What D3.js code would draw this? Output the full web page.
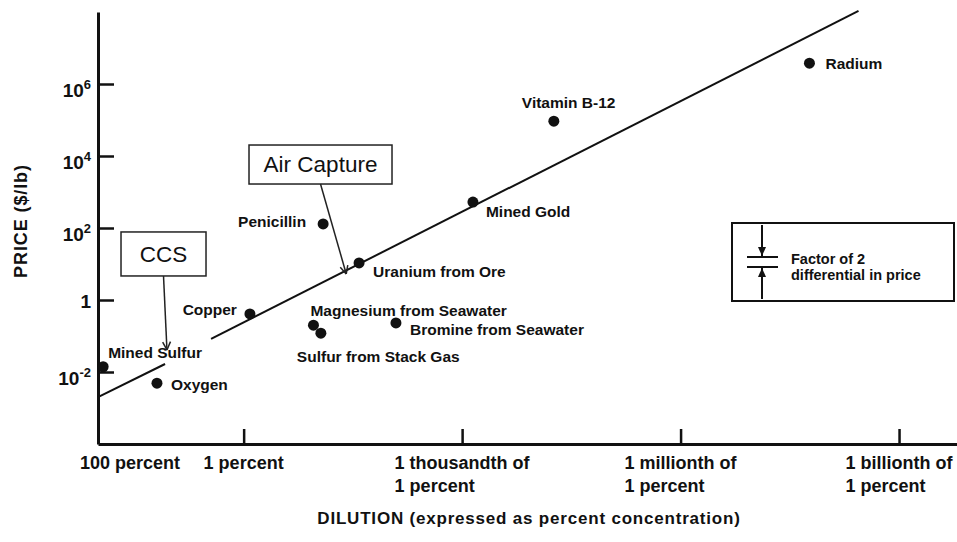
<!DOCTYPE html>
<html>
<head>
<meta charset="utf-8">
<script src="https://cdn.jsdelivr.net/npm/d3@7"></script>
<style>
  body { margin: 0; background: #fff; }
  text { font-family: "Liberation Sans", Arial, sans-serif; fill: #111; }
</style>
</head>
<body>
<div id="chart"></div>
<script>
// materials: concentration in percent, price in $/lb
var names = ["Mined Sulfur", "Oxygen", "Copper", "Penicillin", "Uranium from Ore",
  "Magnesium from Seawater", "Sulfur from Stack Gas", "Bromine from Seawater",
  "Mined Gold", "Vitamin B-12", "Radium"];
var concentration = [85, 15.5, 0.82, 0.081, 0.026, 0.11, 0.087, 0.0081, 7.1e-4, 5.5e-5, 1.7e-8];
var price = [0.014, 0.0049, 0.41, 130, 10.7, 0.2, 0.12, 0.23, 525, 9.3e4, 3.8e6];

// trend line, drawn as two pieces (broken near "Mined Sulfur")
var fitConc = [100, 12, 2.8, 3.6e-9];
var fitPrice = [0.002, 0.0167, 0.083, 1.07e8];

var xTicks = [100, 1, 1e-3, 1e-6, 1e-9];
var xTickLabels = [["100 percent"], ["1 percent"], ["1 thousandth of", "1 percent"],
  ["1 millionth of", "1 percent"], ["1 billionth of", "1 percent"]];
var yTicks = [1e-2, 1, 1e2, 1e4, 1e6];
var yTickExp = ["-2", "", "2", "4", "6"];

// call-out boxes
var annoText = ["CCS", "Air Capture"];
var annoBoxConc = [12.6, 0.088];
var annoBoxPrice = [19, 5800];
var annoTipConc = [11.3, 0.039];
var annoTipPrice = [0.041, 5.3];

// label placement relative to each dot
var labelPos = {
  "Mined Sulfur": [5, -14, "start"],
  "Oxygen": [14, 1, "start"],
  "Copper": [-13, -4, "end"],
  "Penicillin": [-17, -2, "end"],
  "Uranium from Ore": [14, 9, "start"],
  "Magnesium from Seawater": [-3, -15, "start"],
  "Sulfur from Stack Gas": [-24, 23, "start"],
  "Bromine from Seawater": [14, 7, "start"],
  "Mined Gold": [13, 10, "start"],
  "Vitamin B-12": [-32, -19, "start"],
  "Radium": [16, 0, "start"]
};
var annoSize = { "CCS": [85, 44], "Air Capture": [143, 39] };

var width = 957, height = 542;

var svg = d3.select("#chart").append("svg")
  .attr("width", width)
  .attr("height", height);

var x = d3.scaleLog().domain([100, 1.6e-10]).range([98, 957]);
var y = d3.scaleLog().domain([1e-4, 1e8]).range([444, 12]);

// axes
var xAxis = svg.append("g")
  .attr("transform", "translate(0,444)")
  .call(d3.axisBottom(x).tickValues(xTicks).tickSizeInner(-15).tickSizeOuter(0).tickFormat(""));
var yAxis = svg.append("g")
  .attr("transform", "translate(98,0)")
  .call(d3.axisLeft(y).tickValues(yTicks).tickSizeInner(-16).tickSizeOuter(0).tickFormat(""));
svg.selectAll(".domain").attr("stroke", "#111").attr("stroke-width", 3);
svg.selectAll(".tick line").attr("stroke", "#111").attr("stroke-width", 2.5);

// x tick labels: first line centred on tick (first one kept inside the page),
// second line left aligned with the first
xTicks.forEach(function(v, i) {
  var lines = xTickLabels[i];
  var t1 = svg.append("text")
    .attr("y", 469)
    .style("font-size", "18px").style("font-weight", "bold")
    .text(lines[0]);
  var w = t1.node().getComputedTextLength();
  var left = i === 0 ? x(v) - 18 : x(v) - w / 2;
  t1.attr("x", left);
  if (lines.length > 1) {
    svg.append("text")
      .attr("x", left).attr("y", 492)
      .style("font-size", "18px").style("font-weight", "bold")
      .text(lines[1]);
  }
});

// y tick labels with superscript exponents
yTicks.forEach(function(v, i) {
  var t = svg.append("text")
    .attr("x", 91)
    .attr("text-anchor", "end")
    .style("font-size", "19px").style("font-weight", "bold");
  if (yTickExp[i] === "") {
    t.attr("y", y(v) + 8).text("1");
  } else {
    t.attr("y", y(v) + 13);
    t.append("tspan").text("10");
    t.append("tspan").attr("dy", -8).style("font-size", "13px").text(yTickExp[i]);
  }
});

// axis titles
svg.append("text")
  .attr("x", 529).attr("y", 524)
  .attr("text-anchor", "middle")
  .style("font-size", "17px").style("font-weight", "bold")
  .style("letter-spacing", "0.8px")
  .text("DILUTION (expressed as percent concentration)");

svg.append("text")
  .attr("transform", "translate(27,221) rotate(-90)")
  .attr("text-anchor", "middle")
  .style("font-size", "18px").style("font-weight", "bold")
  .style("letter-spacing", "0.9px")
  .text("PRICE ($/lb)");

// trend line
var line = d3.line().x(function(d) { return x(d[0]); }).y(function(d) { return y(d[1]); });
[[0, 1], [2, 3]].forEach(function(seg) {
  svg.append("path")
    .attr("d", line(seg.map(function(k) { return [fitConc[k], fitPrice[k]]; })))
    .attr("fill", "none")
    .attr("stroke", "#111")
    .attr("stroke-width", 2);
});

// dots and labels
var pts = names.map(function(n, i) { return { name: n, c: concentration[i], p: price[i] }; });

svg.append("g").selectAll("circle")
  .data(pts)
  .enter().append("circle")
  .attr("cx", function(d) { return x(d.c); })
  .attr("cy", function(d) { return y(d.p); })
  .attr("r", 5.5)
  .attr("fill", "#111");

svg.append("g").selectAll("text")
  .data(pts)
  .enter().append("text")
  .attr("x", function(d) { return x(d.c) + labelPos[d.name][0]; })
  .attr("y", function(d) { return y(d.p) + labelPos[d.name][1]; })
  .attr("dy", "0.35em")
  .attr("text-anchor", function(d) { return labelPos[d.name][2]; })
  .style("font-size", "15.5px").style("font-weight", "bold")
  .text(function(d) { return d.name; });

// call-outs
annoText.forEach(function(txt, i) {
  var cx = x(annoBoxConc[i]), cy = y(annoBoxPrice[i]);
  var w = annoSize[txt][0], h = annoSize[txt][1];
  var tx = x(annoTipConc[i]), ty = y(annoTipPrice[i]);
  var g = svg.append("g");
  g.append("rect")
    .attr("x", cx - w / 2).attr("y", cy - h / 2)
    .attr("width", w).attr("height", h)
    .attr("fill", "#fff").attr("stroke", "#222").attr("stroke-width", 1.5);
  g.append("text")
    .attr("x", cx).attr("y", cy).attr("dy", "0.35em")
    .attr("text-anchor", "middle")
    .style("font-size", "22.5px")
    .text(txt);
  var sx = cx, sy = cy + h / 2;
  g.append("line")
    .attr("x1", sx).attr("y1", sy).attr("x2", tx).attr("y2", ty)
    .attr("stroke", "#222").attr("stroke-width", 1.5);
  var a = Math.atan2(ty - sy, tx - sx), len = 9, spread = 0.45;
  [a + Math.PI - spread, a + Math.PI + spread].forEach(function(b) {
    g.append("line")
      .attr("x1", tx).attr("y1", ty)
      .attr("x2", tx + len * Math.cos(b)).attr("y2", ty + len * Math.sin(b))
      .attr("stroke", "#222").attr("stroke-width", 1.5);
  });
});

// legend box
var lg = svg.append("g").attr("transform", "translate(732,223)");
lg.append("rect")
  .attr("width", 222).attr("height", 78)
  .attr("fill", "#fff").attr("stroke", "#111").attr("stroke-width", 2);
lg.append("line").attr("x1", 30).attr("x2", 30).attr("y1", 2).attr("y2", 34)
  .attr("stroke", "#111").attr("stroke-width", 2);
lg.append("line").attr("x1", 30).attr("x2", 30).attr("y1", 44).attr("y2", 76)
  .attr("stroke", "#111").attr("stroke-width", 2);
lg.append("path").attr("d", "M26,24 L34,24 L30,33 Z").attr("fill", "#111");
lg.append("path").attr("d", "M26,54 L34,54 L30,45 Z").attr("fill", "#111");
lg.append("line").attr("x1", 15).attr("x2", 46).attr("y1", 34).attr("y2", 34)
  .attr("stroke", "#111").attr("stroke-width", 2);
lg.append("line").attr("x1", 15).attr("x2", 46).attr("y1", 44).attr("y2", 44)
  .attr("stroke", "#111").attr("stroke-width", 2);
lg.append("text").attr("x", 59).attr("y", 36).attr("dy", "0.35em")
  .style("font-size", "14.5px").style("font-weight", "bold")
  .text("Factor of 2");
lg.append("text").attr("x", 59).attr("y", 52).attr("dy", "0.35em")
  .style("font-size", "14.5px").style("font-weight", "bold")
  .text("differential in price");
</script>
</body>
</html>
